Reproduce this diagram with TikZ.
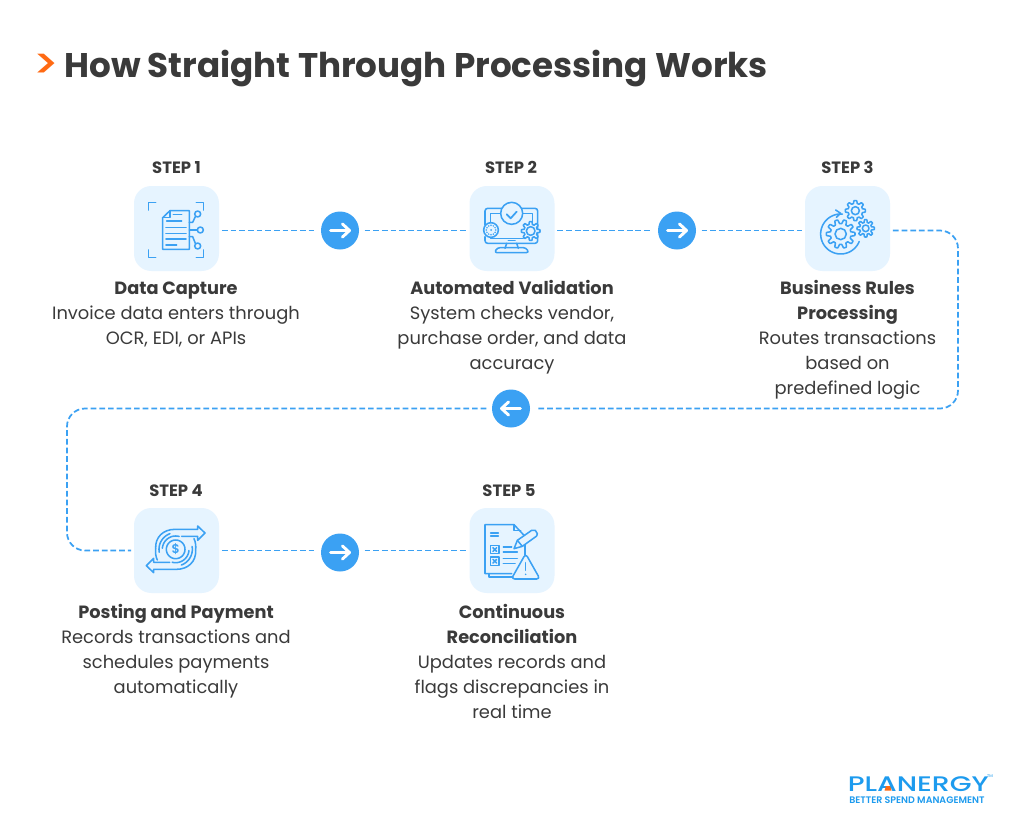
\documentclass[tikz,border=0pt]{standalone}
\usepackage{graphicx}
\usepackage{fontspec}
\setmainfont{Poppins}[BoldFont={Poppins SemiBold}]
\newfontfamily\heavy{Poppins}
\newfontfamily\midweight{Poppins Medium}
\definecolor{ink}{HTML}{3A3A3A}
\definecolor{sky}{HTML}{3BA1F3}
\definecolor{pale}{HTML}{E6F4FF}
\definecolor{flame}{HTML}{FF6A13}
\definecolor{brand}{HTML}{1D9BEE}
\newcommand{\mygear}[5]{plot[domain=0:360,samples=145] ({#1+(#3+#4*max(-1,min(1,2*cos(#5*\x))))*cos(\x)},{#2+(#3+#4*max(-1,min(1,2*cos(#5*\x))))*sin(\x)}) -- cycle}
\newcommand{\myarc}[5]{plot[domain=#4:#5,samples=40] ({#1+#3*cos(\x)},{#2+#3*sin(\x)})}
\newcommand{\hd}[1]{{\heavy\bfseries\fontsize{13.3}{18.75}\selectfont #1}}
\tikzset{
  iconbox/.style={fill=pale,draw=none,rounded corners=13pt,minimum size=63.75pt,inner sep=0pt},
  roundbtn/.style={circle,fill=sky,draw=none,minimum size=28.5pt,inner sep=0pt},
  btnarrow/.style={draw=white,line width=2.2pt,line cap=round,line join=round},
  flow/.style={draw=sky,line width=1.3pt,dash pattern=on 4.3pt off 2.2pt},
  stepname/.style={font=\heavy\bfseries\fontsize{12.3}{14}\selectfont,text=ink,inner sep=0pt},
  blurb/.style={font=\fontsize{13.4}{18.75}\selectfont,text=ink,align=center,inner sep=0pt,anchor=north},
  glyph/.style={draw=sky,line width=1.15pt,line join=round,line cap=round},
  glyphscope/.style={x=0.25pt,y=-0.25pt}
}
\begin{document}
\begin{tikzpicture}[x=0.75pt,y=-0.75pt]
\useasboundingbox (0,0) rectangle (1024,835);
\fill[white] (0,0) rectangle (1024,835);
% title
\node[font=\midweight\fontsize{31}{34}\selectfont,text=flame,inner sep=0pt,anchor=base west] (chev) at (32,78) {\scalebox{1.12}[1]{>}};
\node[font=\heavy\bfseries\fontsize{25.63}{30}\selectfont,text=ink,inner sep=0pt,anchor=base west] (title) at (64,77) {How Straight Through Processing Works};
% boxes
\node[iconbox] (box1) at (176.5,228.5) {};
\node[iconbox] (box2) at (512,228.5) {};
\node[iconbox] (box3) at (847.5,228.5) {};
\node[iconbox] (box4) at (176.5,550.5) {};
\node[iconbox] (box5) at (512,550.5) {};
\node[roundbtn] (c1) at (340,230.5) {};
\node[roundbtn] (c2) at (677,230.5) {};
\node[roundbtn] (c3) at (511,408.5) {};
\node[roundbtn] (c4) at (340,552.5) {};
\coordinate (r1) at (958,230.5);
\coordinate (r2) at (958,408.5);
\coordinate (l1) at (67,408.5);
\coordinate (l2) at (67,550.5);
% connectors
\draw[flow,shorten <=2pt,shorten >=4pt] (box1.east |- c1.west) -- (c1.west);
\draw[flow,shorten <=4pt,shorten >=1pt] (c1.east) -- (box2.west |- c1.east);
\draw[flow,shorten <=2pt,shorten >=4pt] (box2.east |- c2.west) -- (c2.west);
\draw[flow,shorten <=4pt,shorten >=2pt] (c2.east) -- (box3.west |- c2.east);
\draw[flow,rounded corners=13.5pt,shorten <=2pt,shorten >=4pt] (box3.east |- r1) -- (r1) -- (r2) -- (c3.east);
\draw[flow,rounded corners=13.5pt,shorten <=4pt,shorten >=2pt] (c3.west) -- (l1) -- (l2) -- (box4.west);
\draw[flow,shorten <=2pt,shorten >=4pt] (box4.east) -- (box4.east -| c4.west);
\draw[flow,shorten <=4pt,shorten >=1pt] (box5.west -| c4.east) -- (box5.west);
% button arrows
\draw[btnarrow] (c1) ++(-9.5,0) -- ++(19,0) ++(-7,-6.5) -- ++(7,6.5) -- ++(-7,6.5);
\draw[btnarrow] (c2) ++(-9.5,0) -- ++(19,0) ++(-7,-6.5) -- ++(7,6.5) -- ++(-7,6.5);
\draw[btnarrow] (c3) ++(9.5,0) -- ++(-19,0) ++(7,-6.5) -- ++(-7,6.5) -- ++(7,6.5);
\draw[btnarrow] (c4) ++(-9.5,0) -- ++(19,0) ++(-7,-6.5) -- ++(7,6.5) -- ++(-7,6.5);
% step labels
\node[stepname] (s1) at (176.5,167.5) {STEP 1};
\node[stepname] (s2) at (511,167.5) {STEP 2};
\node[stepname] (s3) at (847.5,167.5) {STEP 3};
\node[stepname] (s4) at (176,490.5) {STEP 4};
\node[stepname] (s5) at (509,490.5) {STEP 5};
% text
\node[blurb] (t1) at (176,282) {\hd{Data Capture}\\Invoice data enters through\\OCR, EDI, or APIs};
\node[blurb] (t2) at (512,280.2) {\hd{Automated Validation}\\System checks vendor,\\purchase order, and data\\accuracy};
\node[blurb] (t3) at (847.5,280.2) {\hd{Business Rules}\\\hd{Processing}\\Routes transactions\\based on\\predefined logic};
\node[blurb] (t4) at (176,604) {\hd{Posting and Payment}\\Records transactions and\\schedules payments\\automatically};
\node[blurb] (t5) at (512,604) {\hd{Continuous}\\\hd{Reconciliation}\\Updates records and\\flags discrepancies in\\real time};
% icon 1
\begin{scope}[shift={(120,170)},glyphscope]
\draw[glyph] (85,120) -- (85,98) -- (107,98);
\draw[glyph] (229,98) -- (251,98) -- (251,120);
\draw[glyph] (85,240) -- (85,262) -- (107,262);
\draw[glyph] (229,262) -- (251,262) -- (251,240);
\draw[glyph] (150,122) -- (208,122) -- (208,238) -- (128,238) -- (128,143) -- cycle;
\draw[glyph] (128,143) -- (150,143) -- (150,122);
\draw[glyph] (160,133) -- (185,133);
\draw[glyph] (140,153) -- (185,153);
\draw[glyph] (138,172) -- (198,172);
\draw[glyph] (138,190) -- (198,190);
\draw[glyph] (138,207) -- (198,207);
\draw[glyph] (138,225) -- (170,225);
\draw[glyph] (208,157) -- (218,157) -- (226,140);
\draw[glyph] (208,180) -- (232,180);
\draw[glyph] (208,200) -- (218,200) -- (226,220);
\draw[glyph] (233,132) circle (9);
\draw[glyph] (241,180) circle (9);
\draw[glyph] (233,228) circle (9);
\end{scope}
% icon 2
\begin{scope}[shift={(460,175)},glyphscope]
\draw[glyph,rounded corners=2pt] (75,150) -- (75,100) -- (233,100) -- (233,205) -- (75,205) -- (75,185);
\draw[glyph] (92,145) -- (92,115) -- (122,115);
\draw[glyph] (188,115) -- (218,115) -- (218,140);
\draw[glyph] (92,188) -- (92,190) -- (190,190);
\draw[glyph] (145,197) -- (165,197);
\draw[glyph] (140,205) -- (135,220);
\draw[glyph] (170,205) -- (175,220);
\draw[glyph,rounded corners=2pt] (103,233) -- (207,233) -- (198,218) -- (112,218) -- cycle;
\draw[glyph,fill=pale] (155,115) circle (33);
\draw[glyph,line width=1.3pt] (140,118) -- (152,130) -- (170,110);
\draw[glyph,fill=pale] (93,165) circle (22);
\foreach \a in {0,30,...,330}{\fill[sky] ({93+14*cos(\a)},{165+14*sin(\a)}) circle (2.6);}
\fill[sky] (93,165) circle (3);
\draw[glyph,fill=pale] \mygear{212}{168}{24}{4}{8};
\draw[glyph] (212,168) circle (13);
\end{scope}
% icon 3
\begin{scope}[shift={(795,175)},glyphscope]
\draw[glyph] \myarc{137}{177}{60}{275}{22} ;
\draw[glyph] (122,105) -- (137,115) -- (124,127);
\draw[glyph,fill=pale] \mygear{137}{177}{37}{6}{10};
\draw[glyph] (137,177) circle (17);
\draw[glyph,fill=pale] \mygear{181}{107}{26}{4}{8};
\draw[glyph] (181,107) circle (12);
\draw[glyph,fill=pale] \mygear{212}{160}{22}{4}{8};
\draw[glyph] (212,160) circle (10);
\end{scope}
% icon 4
\begin{scope}[shift={(125,497)},glyphscope]
\draw[glyph] (92,155) .. controls (90,120) and (115,97) .. (150,97) -- (218,97) -- (218,87) -- (240,108) -- (218,130) -- (218,118) -- (170,118);
\draw[glyph] (212,159) .. controls (214,194) and (189,217) .. (154,217) -- (86,217) -- (86,227) -- (64,206) -- (86,184) -- (86,196) -- (134,196);
\draw[glyph] (207,125) .. controls (212,135) and (213,147) .. (212,159);
\draw[glyph] (97,189) .. controls (92,179) and (91,167) .. (92,155);
\draw[glyph] \myarc{152}{157}{28}{0}{360};
\draw[glyph] \myarc{152}{157}{40}{185}{285};
\draw[glyph] \myarc{152}{157}{40}{5}{105};
\draw[glyph] \myarc{152}{157}{50}{170}{250};
\draw[glyph] \myarc{152}{157}{50}{-10}{70};
\node[text=sky,font=\bfseries\fontsize{9.5}{10}\selectfont,inner sep=0pt] (dollar) at (152,157) {\$};
\end{scope}
% icon 5
\begin{scope}[shift={(460,497)},glyphscope]
\draw[glyph] (155,230) -- (75,230) -- (75,83) -- (162,83) -- (195,118) -- (195,175);
\draw[glyph] (162,83) -- (162,100) -- (182,100);
\draw[glyph] (87,230) -- (87,240) -- (155,240);
\draw[glyph] (92,108) -- (115,108);
\draw[glyph] (92,117) -- (115,117);
\draw[glyph] (92,145) rectangle (117,170);
\draw[glyph] (92,180) rectangle (117,205);
\draw[glyph] (99,152) -- (110,163) (110,152) -- (99,163);
\draw[glyph] (99,187) -- (110,198) (110,187) -- (99,198);
\draw[glyph] (130,150) -- (155,150);
\draw[glyph] (130,165) -- (172,165);
\draw[glyph] (130,185) -- (172,185);
\draw[glyph] (130,200) -- (165,200);
\draw[glyph,fill=pale] (162,155) -- (172,130) -- (215,100) -- (226,100) -- (232,110) -- (230,117) -- (187,148) -- cycle;
\draw[glyph] (172,130) -- (187,148);
\draw[glyph,fill=pale,rounded corners=2.5pt] (197,170) -- (240,246) -- (154,246) -- cycle;
\draw[glyph] (197,197) -- (197,220);
\fill[sky] (197,232) circle (2.6);
\end{scope}
% logo
\node[text=brand,font=\midweight\fontsize{15.8}{18}\selectfont,inner sep=0pt,anchor=base west] (logo) at (847.5,791) {\scalebox{1.34}[1]{PLANERGY}};
\fill[flame] (886,786) -- (890,786) -- (891.5,790.5) -- (884.5,790.5) -- cycle;
\node[text=brand,font=\fontsize{3}{4}\selectfont,inner sep=0pt] (tm) at (990,776) {TM};
\node[text=brand,font=\bfseries\fontsize{7.1}{8}\selectfont,inner sep=0pt,anchor=base west] (tag) at (849,803.5) {BETTER SPEND MANAGEMENT};
\end{tikzpicture}
\end{document}
